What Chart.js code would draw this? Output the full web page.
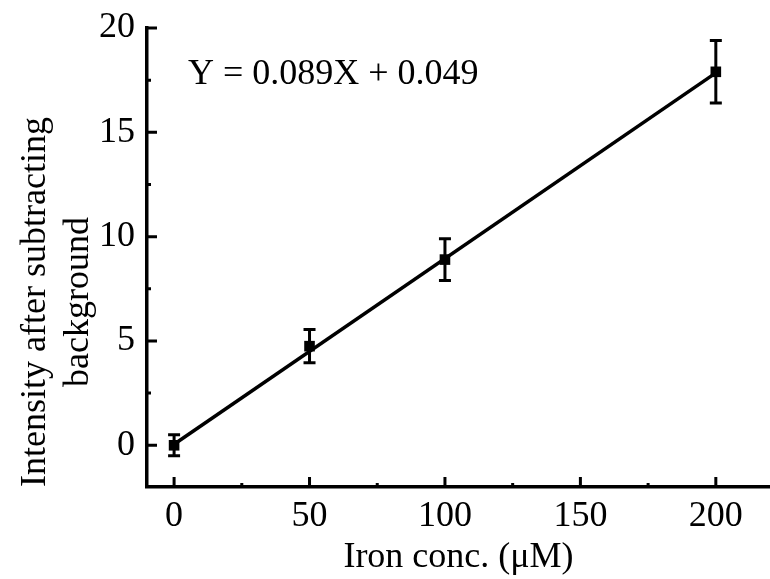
<!DOCTYPE html>
<html>
<head>
<meta charset="utf-8">
<script src="https://cdn.jsdelivr.net/npm/chart.js@4"></script>
<style>
  html, body { margin: 0; padding: 0; background: #fff; }
  #wrap { width: 770px; height: 579px; }
</style>
</head>
<body>
<div id="wrap"><canvas id="ironChart" width="770" height="579"></canvas></div>
<script>
const ironConc = [0, 50, 100, 200];
const intensity = [0.0, 4.75, 8.9, 17.9];
const errorBars = [0.5, 0.8, 1.0, 1.5];
const fitX = [0, 200];
const fitY = [0.05, 17.85];
const xTicks = [0, 50, 100, 150, 200];
const yTicks = [0, 5, 10, 15, 20];
const xMinorTicks = [25, 75, 125, 175];
const yMinorTicks = [2.5, 7.5, 12.5, 17.5];
const equation = 'Y = 0.089X + 0.049';
const yTitle = ['Intensity after subtracting', 'background'];

const serif = '"Liberation Serif", "Times New Roman", serif';

// error bars with caps
const errorBarPlugin = {
    id: 'errorBars',
    afterDatasetsDraw(chart) {
        const { ctx, scales: { x, y } } = chart;
        ctx.save();
        ctx.strokeStyle = '#000';
        ctx.lineWidth = 3;
        ironConc.forEach((c, i) => {
            const px = x.getPixelForValue(c);
            const top = y.getPixelForValue(intensity[i] + errorBars[i]);
            const bot = y.getPixelForValue(intensity[i] - errorBars[i]);
            ctx.beginPath();
            ctx.moveTo(px, top); ctx.lineTo(px, bot);
            ctx.moveTo(px - 6, top); ctx.lineTo(px + 6, top);
            ctx.moveTo(px - 6, bot); ctx.lineTo(px + 6, bot);
            ctx.stroke();
        });
        ctx.restore();
    }
};

// tick marks pointing into the plot, equation and the y title
const innerTicksPlugin = {
    id: 'innerTicks',
    afterDraw(chart) {
        const { ctx, chartArea, scales: { x, y } } = chart;
        ctx.save();
        ctx.strokeStyle = '#000';
        ctx.lineWidth = 3;
        ctx.beginPath();
        xTicks.forEach(v => {
            const px = x.getPixelForValue(v);
            ctx.moveTo(px, chartArea.bottom); ctx.lineTo(px, chartArea.bottom - 10);
        });
        xMinorTicks.forEach(v => {
            const px = x.getPixelForValue(v);
            ctx.moveTo(px, chartArea.bottom); ctx.lineTo(px, chartArea.bottom - 4);
        });
        yTicks.forEach(v => {
            const py = y.getPixelForValue(v);
            ctx.moveTo(chartArea.left, py); ctx.lineTo(chartArea.left + 10, py);
        });
        yMinorTicks.forEach(v => {
            const py = y.getPixelForValue(v);
            ctx.moveTo(chartArea.left, py); ctx.lineTo(chartArea.left + 4, py);
        });
        ctx.stroke();

        ctx.fillStyle = '#000';
        ctx.font = '36px ' + serif;
        ctx.textBaseline = 'alphabetic';
        ctx.textAlign = 'left';
        ctx.fillText(equation, chartArea.left + 41, chartArea.top + 56);

        // y title, two centred lines, rotated
        ctx.translate(0, 302);
        ctx.rotate(-Math.PI / 2);
        ctx.textAlign = 'center';
        ctx.textBaseline = 'middle';
        yTitle.forEach((line, i) => ctx.fillText(line, 0, 36 + i * 43));
        ctx.restore();
    }
};

const config = {
    type: 'scatter',
    data: {
        datasets: [
            {
                label: 'fit',
                type: 'line',
                data: fitX.map((v, i) => ({ x: v, y: fitY[i] })),
                borderColor: '#000',
                borderWidth: 3.5,
                pointRadius: 0,
                fill: false,
            },
            {
                label: 'Intensity',
                data: ironConc.map((v, i) => ({ x: v, y: intensity[i] })),
                pointStyle: 'rect',
                pointRadius: 7.5,
                backgroundColor: '#000',
                borderColor: '#000',
                borderWidth: 0,
            },
        ]
    },
    options: {
        responsive: false,
        animation: false,
        layout: { autoPadding: false, padding: { top: 28, right: 0, left: 0, bottom: 0 } },
        plugins: {
            legend: { display: false },
            tooltip: { enabled: false },
        },
        scales: {
            x: {
                type: 'linear',
                min: -10,
                max: 220,
                afterBuildTicks: s => { s.ticks = xTicks.map(v => ({ value: v })); },
                afterFit: s => { s.height = 92; },
                grid: { display: false },
                border: { display: true, color: '#000', width: 3.5 },
                ticks: {
                    color: '#000',
                    padding: 0,
                    maxRotation: 0,
                    font: { family: serif, size: 36 },
                },
                title: {
                    display: true,
                    text: 'Iron conc. (μM)',
                    color: '#000',
                    padding: { top: 0, bottom: 0 },
                    font: { family: serif, size: 36, lineHeight: 1.2 },
                },
            },
            y: {
                type: 'linear',
                min: -2,
                max: 20,
                afterBuildTicks: s => { s.ticks = yTicks.map(v => ({ value: v })); },
                afterFit: s => { s.width = 147; },
                grid: { display: false },
                border: { display: true, color: '#000', width: 3.5 },
                ticks: {
                    color: '#000',
                    padding: 4,
                    font: { family: serif, size: 36 },
                },
                title: { display: false },
            },
        },
    },
    plugins: [errorBarPlugin, innerTicksPlugin],
};

const ironChart = new Chart(document.getElementById('ironChart'), config);
</script>
</body>
</html>
